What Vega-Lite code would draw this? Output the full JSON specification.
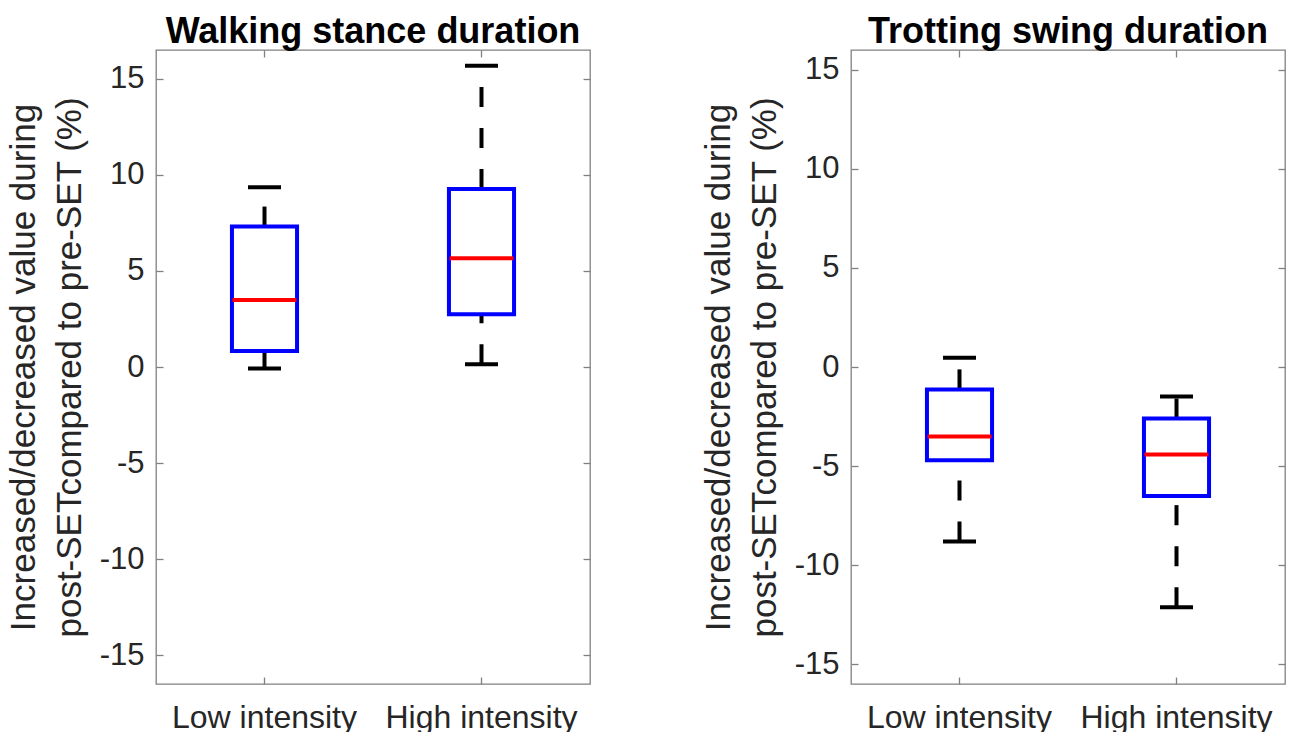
{
  "$schema": "https://vega.github.io/schema/vega-lite/v6.json",
  "background": "white",
  "autosize": {"type": "pad"},
  "padding": {"left": 5, "top": 13, "right": 5, "bottom": 5},
  "config": {
    "font": "Liberation Sans",
    "view": {"stroke": "#808080", "strokeWidth": 1.3},
    "axis": {"domain": false, "grid": false, "tickColor": "#808080", "tickSize": -7, "tickWidth": 1.3, "labelFont": "Liberation Sans", "titleFont": "Liberation Sans", "labelColor": "#262626", "titleColor": "#262626", "labelLimit": 0},
    "title": {"fontSize": 36, "fontWeight": "bold", "color": "#000000", "font": "Liberation Sans", "offset": -2},
    "tick": {"opacity": 1}
  },
  "bounds": "flush",
  "spacing": 261,
  "hconcat": [
    {
      "title": "Walking stance duration",
      "width": 434,
      "height": 634,
      "data": {"values": [
        {"group": "Low intensity", "min": -0.08, "q1": 0.83, "median": 3.49, "q3": 7.31, "max": 9.36},
        {"group": "High intensity", "min": 0.14, "q1": 2.74, "median": 5.66, "q3": 9.26, "max": 15.68}
      ]},
      "resolve": {"axis": {"x": "independent", "y": "independent"}},
      "layer": [
        {
          "mark": {"type": "rule", "color": "#000000", "strokeWidth": 4, "strokeDash": [20, 21]},
          "encoding": {
            "x": {"field": "group", "type": "nominal", "sort": ["Low intensity", "High intensity"], "scale": {"paddingInner": 0, "paddingOuter": 0}, "axis": null},
            "y": {"field": "q3", "type": "quantitative", "scale": {"domain": [-16.5, 16.5], "nice": false, "zero": false}, "axis": null},
            "y2": {"field": "max"}
          }
        },
        {
          "mark": {"type": "rule", "color": "#000000", "strokeWidth": 4, "strokeDash": [20, 21]},
          "encoding": {
            "x": {"field": "group", "type": "nominal", "sort": ["Low intensity", "High intensity"], "axis": null},
            "y": {"field": "min", "type": "quantitative", "axis": null},
            "y2": {"field": "q1"}
          }
        },
        {
          "mark": {"type": "bar", "fill": "white", "stroke": "#0000FF", "strokeWidth": 4, "width": {"band": 0.3}},
          "encoding": {
            "x": {"field": "group", "type": "nominal", "sort": ["Low intensity", "High intensity"], "axis": {"orient": "bottom", "title": null, "labelFontSize": 32, "labelAngle": 0, "labelPadding": 25}},
            "y": {"field": "q1", "type": "quantitative", "axis": {"orient": "left", "values": [-15, -10, -5, 0, 5, 10, 15], "labelExpr": "replace(datum.label, '\u2212', '-')", "labelFontSize": 31, "labelPadding": 19, "title": ["Increased/decreased value during", "post-SETcompared to pre-SET (%)"], "titleFontSize": 35, "titleFontWeight": "normal", "titleLineHeight": 46, "titlePadding": 12}},
            "y2": {"field": "q3"}
          }
        },
        {
          "mark": {"type": "tick", "color": "#FF0000", "size": 64, "thickness": 4, "opacity": 1},
          "encoding": {
            "x": {"field": "group", "type": "nominal", "sort": ["Low intensity", "High intensity"], "axis": {"orient": "top", "labels": false, "title": null}},
            "y": {"field": "median", "type": "quantitative", "axis": {"orient": "right", "labels": false, "title": null, "values": [-15, -10, -5, 0, 5, 10, 15]}}
          }
        },
        {
          "mark": {"type": "tick", "color": "#000000", "size": 33, "thickness": 4, "opacity": 1},
          "encoding": {
            "x": {"field": "group", "type": "nominal", "sort": ["Low intensity", "High intensity"], "axis": null},
            "y": {"field": "max", "type": "quantitative", "axis": null}
          }
        },
        {
          "mark": {"type": "tick", "color": "#000000", "size": 33, "thickness": 4, "opacity": 1},
          "encoding": {
            "x": {"field": "group", "type": "nominal", "sort": ["Low intensity", "High intensity"], "axis": null},
            "y": {"field": "min", "type": "quantitative", "axis": null}
          }
        }
      ]
    },
    {
      "title": "Trotting swing duration",
      "width": 434,
      "height": 634,
      "data": {"values": [
        {"group": "Low intensity", "min": -8.81, "q1": -4.71, "median": -3.51, "q3": -1.13, "max": 0.47},
        {"group": "High intensity", "min": -12.12, "q1": -6.51, "median": -4.42, "q3": -2.6, "max": -1.49}
      ]},
      "resolve": {"axis": {"x": "independent", "y": "independent"}},
      "layer": [
        {
          "mark": {"type": "rule", "color": "#000000", "strokeWidth": 4, "strokeDash": [20, 21]},
          "encoding": {
            "x": {"field": "group", "type": "nominal", "sort": ["Low intensity", "High intensity"], "scale": {"paddingInner": 0, "paddingOuter": 0}, "axis": null},
            "y": {"field": "q3", "type": "quantitative", "scale": {"domain": [-16, 16], "nice": false, "zero": false}, "axis": null},
            "y2": {"field": "max"}
          }
        },
        {
          "mark": {"type": "rule", "color": "#000000", "strokeWidth": 4, "strokeDash": [20, 21]},
          "encoding": {
            "x": {"field": "group", "type": "nominal", "sort": ["Low intensity", "High intensity"], "axis": null},
            "y": {"field": "min", "type": "quantitative", "axis": null},
            "y2": {"field": "q1"}
          }
        },
        {
          "mark": {"type": "bar", "fill": "white", "stroke": "#0000FF", "strokeWidth": 4, "width": {"band": 0.3}},
          "encoding": {
            "x": {"field": "group", "type": "nominal", "sort": ["Low intensity", "High intensity"], "axis": {"orient": "bottom", "title": null, "labelFontSize": 32, "labelAngle": 0, "labelPadding": 25}},
            "y": {"field": "q1", "type": "quantitative", "axis": {"orient": "left", "values": [-15, -10, -5, 0, 5, 10, 15], "labelExpr": "replace(datum.label, '\u2212', '-')", "labelFontSize": 31, "labelPadding": 19, "title": ["Increased/decreased value during", "post-SETcompared to pre-SET (%)"], "titleFontSize": 35, "titleFontWeight": "normal", "titleLineHeight": 46, "titlePadding": 12}},
            "y2": {"field": "q3"}
          }
        },
        {
          "mark": {"type": "tick", "color": "#FF0000", "size": 64, "thickness": 4, "opacity": 1},
          "encoding": {
            "x": {"field": "group", "type": "nominal", "sort": ["Low intensity", "High intensity"], "axis": {"orient": "top", "labels": false, "title": null}},
            "y": {"field": "median", "type": "quantitative", "axis": {"orient": "right", "labels": false, "title": null, "values": [-15, -10, -5, 0, 5, 10, 15]}}
          }
        },
        {
          "mark": {"type": "tick", "color": "#000000", "size": 33, "thickness": 4, "opacity": 1},
          "encoding": {
            "x": {"field": "group", "type": "nominal", "sort": ["Low intensity", "High intensity"], "axis": null},
            "y": {"field": "max", "type": "quantitative", "axis": null}
          }
        },
        {
          "mark": {"type": "tick", "color": "#000000", "size": 33, "thickness": 4, "opacity": 1},
          "encoding": {
            "x": {"field": "group", "type": "nominal", "sort": ["Low intensity", "High intensity"], "axis": null},
            "y": {"field": "min", "type": "quantitative", "axis": null}
          }
        }
      ]
    }
  ]
}
